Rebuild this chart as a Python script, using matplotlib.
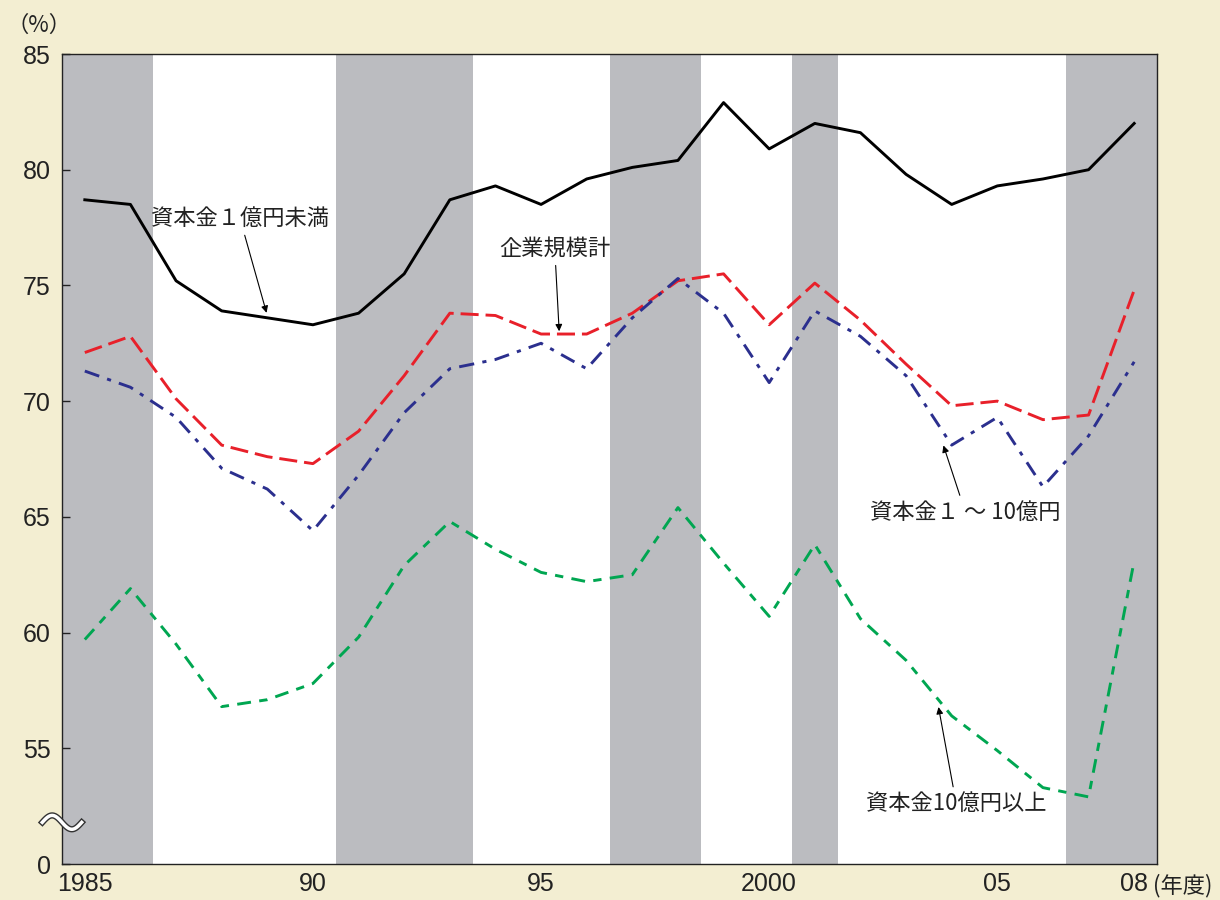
import matplotlib
matplotlib.use("Agg")
import matplotlib.pyplot as plt
import matplotlib.patheffects as pe
import numpy as np

plt.rcParams["font.family"] = ["Liberation Sans", "Noto Sans CJK JP", "DejaVu Sans"]
plt.rcParams["lines.scale_dashes"] = False
plt.rcParams["text.color"] = "#222222"
plt.rcParams["xtick.color"] = "#222222"
plt.rcParams["ytick.color"] = "#222222"

years = list(range(1985, 2009))
small = [78.7, 78.5, 75.2, 73.9, 73.6, 73.3, 73.8, 75.5, 78.7, 79.3, 78.5, 79.6,
         80.1, 80.4, 82.9, 80.9, 82.0, 81.6, 79.8, 78.5, 79.3, 79.6, 80.0, 82.0]
total = [72.1, 72.8, 70.1, 68.1, 67.6, 67.3, 68.7, 71.1, 73.8, 73.7, 72.9, 72.9,
         73.8, 75.2, 75.5, 73.3, 75.1, 73.5, 71.6, 69.8, 70.0, 69.2, 69.4, 74.8]
mid = [71.3, 70.6, 69.3, 67.1, 66.2, 64.4, 66.8, 69.5, 71.4, 71.8, 72.5, 71.4,
       73.6, 75.3, 73.8, 70.8, 73.9, 72.8, 71.1, 68.1, 69.3, 66.3, 68.5, 71.7]
large = [59.7, 61.9, 59.5, 56.8, 57.1, 57.8, 59.8, 62.9, 64.8, 63.6, 62.6, 62.2,
         62.5, 65.4, 63.0, 60.7, 63.8, 60.6, 58.8, 56.4, 54.9, 53.3, 52.9, 63.1]

# recession periods (shaded)
bands = [(1984.5, 1986.5), (1990.5, 1993.5), (1996.5, 1998.5), (2000.5, 2001.5), (2006.5, 2008.5)]

xticks = [1985, 1990, 1995, 2000, 2005, 2008]
xlabels = ["1985", "90", "95", "2000", "05", "08"]
yticks = [50, 55, 60, 65, 70, 75, 80, 85]
ylabels = ["0", "55", "60", "65", "70", "75", "80", "85"]

bg = "#F3EED2"
fig = plt.figure(figsize=(12.2, 9), dpi=100, facecolor=bg)
ax = fig.add_axes([62 / 1220, 36 / 900, 1095 / 1220, 810 / 900])
ax.set_facecolor("white")

for a, b in bands:
    ax.axvspan(a, b, color="#BBBCC0", lw=0, zorder=0)

ax.plot(years, small, color="black", lw=2.1, zorder=3)
ax.plot(years, total, color="#E8202A", lw=2.1, dashes=(13, 5), zorder=3)
ax.plot(years, mid, color="#2B2F8E", lw=2.1, dashes=(11, 6, 3, 6), zorder=3)
ax.plot(years, large, color="#00A651", lw=2.1, dashes=(10, 6, 6, 6), zorder=3)

ax.set_xlim(1984.5, 2008.5)
ax.set_ylim(50, 85)
ax.set_xticks(xticks)
ax.set_xticklabels(xlabels)
ax.set_yticks(yticks)
ax.set_yticklabels(ylabels)
ax.tick_params(axis="y", direction="in", length=6, width=1, labelsize=18, pad=8)
ax.tick_params(axis="x", length=0, labelsize=18, pad=6)
for s in ax.spines.values():
    s.set_linewidth(1.0)
    s.set_color("#222222")

fig.text(6 / 1220, 1 - 25 / 900, "（%）", fontsize=16, va="center", ha="left",
         family=["Noto Sans CJK JP"])
fig.text(1153 / 1220, 1 - 886 / 900, "(年度)", fontsize=16, va="center", ha="left",
         family=["Noto Sans CJK JP"])

# axis break mark
wy = 51.8
wx = np.linspace(-0.018, 0.018, 41)
wv = wy + 0.3 * np.sin(2 * np.pi * (wx + 0.018) / 0.036)
ax.plot(wx, wv, transform=ax.get_yaxis_transform(), color="white", lw=2.5, clip_on=False, zorder=5,
        path_effects=[pe.Stroke(linewidth=4.5, foreground="#333333"), pe.Normal()])

cjk = ["Noto Sans CJK JP"]
arrow = dict(arrowstyle="-|>", color="black", lw=0.8, mutation_scale=10)
ax.annotate("資本金１億円未満", xy=(1989.0, 73.7), xytext=(1988.4, 77.9),
            fontsize=16, family=cjk, ha="center", va="center", arrowprops=arrow)
ax.annotate("企業規模計", xy=(1995.4, 72.9), xytext=(1995.3, 76.6),
            fontsize=16, family=cjk, ha="center", va="center", arrowprops=arrow)
ax.annotate("資本金１ ～ 10億円", xy=(2003.8, 68.2), xytext=(2004.3, 65.2),
            fontsize=16, family=cjk, ha="center", va="center", arrowprops=arrow)
ax.annotate("資本金10億円以上", xy=(2003.7, 56.9), xytext=(2004.1, 52.6),
            fontsize=16, family=cjk, ha="center", va="center", arrowprops=arrow)

fig.savefig("out.png", dpi=100, facecolor=bg)
